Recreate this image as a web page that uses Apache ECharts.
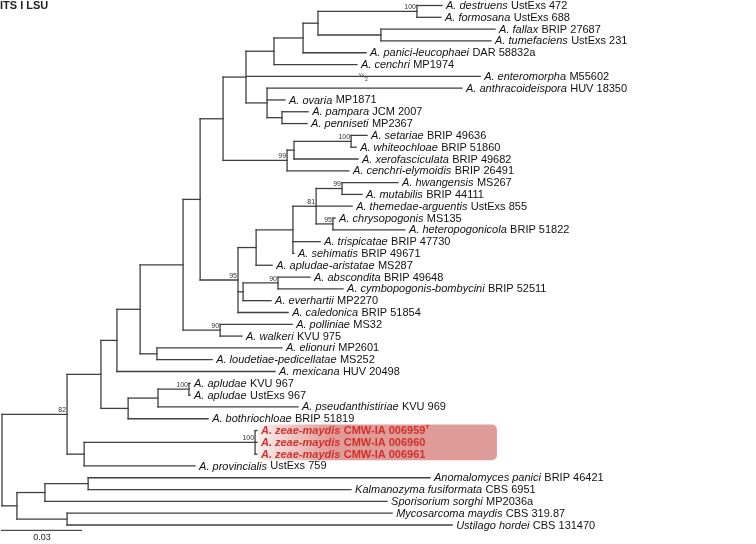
<!DOCTYPE html>
<html><head><meta charset="utf-8">
<script src="https://cdn.jsdelivr.net/npm/echarts@6/dist/echarts.min.js"></script>
<style>html,body{margin:0;padding:0;background:#fff}#c{width:756px;height:544px}</style>
</head><body><div id="c"></div>
<script>
// ---- Leaves, top to bottom ----
const leafTaxa = ['A. destruens','A. formosana','A. fallax','A. tumefaciens','A. panici-leucophaei','A. cenchri','A. enteromorpha','A. anthracoideispora','A. ovaria','A. pampara','A. penniseti','A. setariae','A. whiteochloae','A. xerofasciculata','A. cenchri-elymoidis','A. hwangensis','A. mutabilis','A. themedae-arguentis','A. chrysopogonis','A. heteropogonicola','A. trispicatae','A. sehimatis','A. apludae-aristatae','A. abscondita','A. cymbopogonis-bombycini','A. everhartii','A. caledonica','A. polliniae','A. walkeri','A. elionuri','A. loudetiae-pedicellatae','A. mexicana','A. apludae','A. apludae','A. pseudanthistiriae','A. bothriochloae','A. zeae-maydis','A. zeae-maydis','A. zeae-maydis','A. provincialis','Anomalomyces panici','Kalmanozyma fusiformata','Sporisorium sorghi','Mycosarcoma maydis','Ustilago hordei'];
const leafStrains = ['UstExs 472','UstExs 688','BRIP 27687','UstExs 231','DAR 58832a','MP1974','M55602','HUV 18350','MP1871','JCM 2007','MP2367','BRIP 49636','BRIP 51860','BRIP 49682','BRIP 26491','MS267','BRIP 44111','UstExs 855','MS135','BRIP 51822','BRIP 47730','BRIP 49671','MS287','BRIP 49648','BRIP 52511','MP2270','BRIP 51854','MS32','KVU 975','MP2601','MS252','HUV 20498','KVU 967','UstExs 967','KVU 969','BRIP 51819','CMW-IA 006959','CMW-IA 006960','CMW-IA 006961','UstExs 759','BRIP 46421','CBS 6951','MP2036a','CBS 319.87','CBS 131470'];
const leafParent = ['N1','N1','N2','N2','N4','N5','N6','N7','N7','N8','N8','S1','S1','S2','S3','C6','C6','C5','C7','C7','C2','C2','C1','C4','C4','C3','C95','P','P','EL','EL','N13','AP','AP','B2','B1','ZM','ZM','ZM','Z1','O4','O4','O2','O3','O3'];
// distance from root (substitutions per site)
const leafDepth = [0.1650,0.1646,0.1849,0.1834,0.1365,0.1331,0.1793,0.1725,0.1061,0.1148,0.1144,0.1369,0.1328,0.1335,0.1301,0.1485,0.1350,0.1313,0.1249,0.1511,0.1193,0.1095,0.1013,0.1155,0.1279,0.1009,0.1073,0.1088,0.0900,0.1050,0.0788,0.1024,0.0705,0.0705,0.1110,0.0773,0.0956,0.0956,0.0956,0.0724,0.1605,0.1309,0.1444,0.1463,0.1688];
const highlightLeaves = [36,37,38];
const typeStrainLeaf = 36;

// ---- Internal nodes ----
const nodeIds     = ['root','N15','O1','N14','Z1','N13','B1','N12','N11','EL','N10','P','N9','C95','N6','S3','N5','N4','N3','N1','N2','N7','N8','S2','S1','C1','C2','C5','C6','C7','C3','C4','B2','AP','ZM','O2','O4','O3'];
const nodeParent  = [null,'root','root','N15','N15','N14','N14','N13','N12','N12','N11','N11','N10','N10','N9','N9','N6','N5','N4','N3','N3','N6','N7','S3','S2','C95','C1','C2','C5','C5','C95','C3','B1','B2','Z1','O1','O2','O1'];
const nodeDepth   = [0,0.0244,0.0056,0.0371,0.0308,0.0431,0.0473,0.0518,0.0679,0.0581,0.0743,0.0818,0.0829,0.0885,0.0915,0.1069,0.1020,0.1129,0.1185,0.1556,0.1421,0.0994,0.1050,0.1095,0.1309,0.0953,0.1091,0.1178,0.1275,0.1241,0.0904,0.1035,0.0585,0.0701,0.0949,0.0161,0.0323,0.0244];
const nodeSupport = [null,82,null,null,null,null,null,null,null,null,null,90,null,95,null,99,null,null,null,100,null,null,null,null,100,null,null,81,99,95,null,90,null,100,100,null,null,null];

// long branch drawn shortened (break mark)
const breakLeaf = 6, breakDepth = 0.1350;
const scaleBarLength = 0.03;
const scaleBarLabel = '0.03';

// ---- Build tree ----
const info = {};
nodeIds.forEach((id, i) => { info[id] = {id, depth: nodeDepth[i], parent: nodeParent[i], support: nodeSupport[i], kids: [], leaf: false}; });
leafTaxa.forEach((t, i) => { info['L' + i] = {id: 'L' + i, depth: leafDepth[i], parent: leafParent[i], leaf: true, idx: i, y: i}; });
Object.values(info).forEach(o => { if (o.parent) info[o.parent].kids.push(o); });
function setY(o) {
  if (o.leaf) return o.y;
  const ys = o.kids.map(setY);
  o.y0 = Math.min(...ys); o.y1 = Math.max(...ys); o.y = (o.y0 + o.y1) / 2;
  return o.y;
}
setY(info.root);
const list = Object.values(info);

const LINE = '#3f3f3f', LW = 1.3;
const FONT = "'Liberation Sans', Arial, Helvetica, sans-serif";
const RED = '#d1302b';

function renderNode(params, api) {
  const n = list[params.dataIndex];
  const p = api.coord([n.depth, n.y]);
  const ch = [];
  if (n.parent) {
    const pp = api.coord([info[n.parent].depth, n.y]);
    ch.push({type: 'line', shape: {x1: pp[0], y1: p[1], x2: p[0], y2: p[1]}, style: {stroke: LINE, lineWidth: LW, lineCap: 'square'}});
  }
  if (!n.leaf) {
    const a = api.coord([n.depth, n.y0]), b = api.coord([n.depth, n.y1]);
    ch.push({type: 'line', shape: {x1: a[0], y1: a[1], x2: b[0], y2: b[1]}, style: {stroke: LINE, lineWidth: LW, lineCap: 'square'}});
    if (n.support != null) {
      ch.push({type: 'text', x: p[0] - 1, y: p[1] - 0.5, style: {text: String(n.support), font: '7px ' + FONT, fill: '#333', align: 'right', verticalAlign: 'bottom'}});
    }
  } else {
    const i = n.idx;
    let text, rich;
    if (highlightLeaves.includes(i)) {
      text = '{bi|' + leafTaxa[i] + '} {b|' + leafStrains[i] + '}' + (i === typeStrainLeaf ? '{s|T}' : '');
      rich = {
        bi: {fontStyle: 'italic', fontWeight: 'bold', fontSize: 11, fontFamily: FONT, fill: RED, lineHeight: 13},
        b: {fontWeight: 'bold', fontSize: 11, fontFamily: FONT, fill: RED, lineHeight: 13},
        s: {fontWeight: 'bold', fontSize: 6, fontFamily: FONT, fill: RED, lineHeight: 13, verticalAlign: 'top'}
      };
    } else {
      text = '{i|' + leafTaxa[i] + '} {r|' + leafStrains[i] + '}';
      rich = {
        i: {fontStyle: 'italic', fontSize: 11, fontFamily: FONT, fill: '#111', lineHeight: 13},
        r: {fontSize: 11, fontFamily: FONT, fill: '#111', lineHeight: 13}
      };
    }
    ch.push({type: 'text', x: p[0] + 4, y: p[1] + 0.5, style: {text, rich, align: 'left', verticalAlign: 'middle'}});
    if (i === breakLeaf) {
      const q = api.coord([breakDepth, n.y]);
      ch.push({type: 'line', shape: {x1: q[0] - 3, y1: q[1] - 3, x2: q[0], y2: q[1] + 1}, style: {stroke: LINE, lineWidth: 0.8}});
      ch.push({type: 'line', shape: {x1: q[0] - 0.5, y1: q[1] - 3, x2: q[0] + 2.5, y2: q[1] + 1}, style: {stroke: LINE, lineWidth: 0.8}});
      ch.push({type: 'text', x: q[0] + 3, y: q[1] + 0.5, style: {text: '2', font: '5px ' + FONT, fill: '#333', align: 'left', verticalAlign: 'top'}});
    }
  }
  return {type: 'group', children: ch};
}

const hlData = [[leafDepth[highlightLeaves[0]], highlightLeaves[0], highlightLeaves[highlightLeaves.length - 1]]];
function renderHighlight(params, api) {
  const a = api.coord([api.value(0), api.value(1)]);
  const b = api.coord([api.value(0), api.value(2)]);
  const x0 = a[0] + 1, w = 239, y0 = a[1] - 6, h = b[1] - a[1] + 12;
  return {type: 'rect', shape: {x: x0, y: y0, width: w, height: h, r: 5},
    style: {fill: new echarts.graphic.LinearGradient(0, 0, 1, 0, [
      {offset: 0, color: 'rgba(222,148,144,0.15)'},
      {offset: 0.3, color: 'rgba(222,148,144,0.92)'},
      {offset: 1, color: 'rgba(222,150,146,0.95)'}])}};
}

function renderScale(params, api) {
  const yb = leafTaxa.length - 1 + 0.45;
  const a = api.coord([0, yb]), b = api.coord([api.value(0), yb]);
  return {type: 'group', children: [
    {type: 'line', shape: {x1: a[0] - 1, y1: a[1], x2: b[0], y2: b[1]}, style: {stroke: '#222', lineWidth: 1}},
    {type: 'text', x: (a[0] + b[0]) / 2, y: a[1] + 3, style: {text: scaleBarLabel, font: '9px ' + FONT, fill: '#222', align: 'center', verticalAlign: 'top'}}
  ]};
}

const chart = echarts.init(document.getElementById('c'), null, {renderer: 'canvas'});
chart.setOption({
  animation: false,
  backgroundColor: '#fff',
  title: {text: 'ITS I LSU', left: 0, top: 0, padding: 0, textStyle: {fontSize: 11, fontWeight: 'bold', fontFamily: FONT, color: '#222'}},
  grid: {left: 2, right: 0, top: 5.5, bottom: 19},
  xAxis: {type: 'value', min: 0, max: 0.28275, show: false},
  yAxis: {type: 'value', min: 0, max: leafTaxa.length - 1, inverse: true, show: false},
  series: [
    {type: 'custom', renderItem: renderHighlight, data: hlData, clip: false, z: 1, silent: true},
    {type: 'custom', renderItem: renderNode, data: list.map(o => [o.depth, o.y]), clip: false, z: 2, silent: true},
    {type: 'custom', renderItem: renderScale, data: [[scaleBarLength]], clip: false, z: 2, silent: true}
  ]
});
</script></body></html>
